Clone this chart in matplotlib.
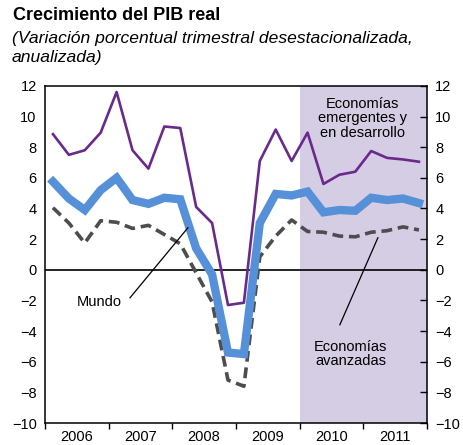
import numpy as np
import matplotlib
matplotlib.use('Agg')
import matplotlib.pyplot as plt

# =============================================================================
# DATA (quarterly, 2006Q1 .. 2011Q4, annualized % change)
# =============================================================================
YEARS = ['2006', '2007', '2008', '2009', '2010', '2011']

EMERGENTES = [8.85, 7.5, 7.8, 8.95, 11.6, 7.8, 6.6, 9.35, 9.25, 4.1, 3.05, -2.3,
              -2.15, 7.1, 9.15, 7.1, 8.95, 5.6, 6.2, 6.4, 7.75, 7.3, 7.2, 7.05]
MUNDO      = [5.75, 4.65, 3.9, 5.2, 6.0, 4.55, 4.3, 4.7, 4.6, 1.4, -0.3, -5.4,
              -5.5, 3.05, 4.95, 4.85, 5.1, 3.75, 3.9, 3.85, 4.7, 4.55, 4.65, 4.35]
AVANZADAS  = [4.05, 3.05, 1.75, 3.2, 3.1, 2.7, 2.9, 2.3, 1.7, -0.2, -2.1, -7.2,
              -7.6, 0.85, 2.2, 3.25, 2.5, 2.45, 2.2, 2.15, 2.45, 2.55, 2.8, 2.6]

SHADE_FROM = 16          # start of 2010 (quarter index)

FONT = 'Liberation Sans'
plt.rcParams['font.family'] = [FONT, 'DejaVu Sans']

# =============================================================================
# FIGURE
# =============================================================================
fig = plt.figure(figsize=(4.64, 4.45), dpi=100)
ax = fig.add_axes([0.097, 0.0494, 0.823, 0.7576])

n = len(MUNDO)
x = np.arange(n) + 0.5

# shaded projection area
ax.axvspan(SHADE_FROM, n, color='#d5cde3', lw=0, zorder=0)
ax.axhline(0, color='black', lw=1.2, zorder=1)

ax.plot(x, AVANZADAS, color='#4d4d4d', lw=2.6, dashes=(3.0, 1.6), zorder=3)
ax.plot(x, MUNDO, color='#5590d8', lw=6, solid_joinstyle='miter', zorder=4)
ax.plot(x, EMERGENTES, color='#6a2a8c', lw=1.9, zorder=5)

ax.set_xlim(0, n)
ax.set_ylim(-10, 12)
ax.set_yticks(np.arange(-10, 13, 2))

# year boundaries as major ticks, year labels centered as minor ticks
ax.set_xticks(np.arange(0, n + 1, 4))
ax.set_xticklabels([])
ax.set_xticks(np.arange(2, n, 4), minor=True)
ax.set_xticklabels(YEARS, minor=True)
ax.tick_params(axis='x', which='major', direction='out', length=4, width=1)
ax.tick_params(axis='x', which='minor', length=0, pad=5, labelsize=10.5)

ax.tick_params(axis='y', left=False, right=True, labelleft=True, labelright=True,
               direction='in', length=5, width=1, labelsize=10.5, pad=6)

for s in ax.spines.values():
    s.set_linewidth(1.1)

# annotations
ax.text(19.97, 9.9, 'Economías\nemergentes y\nen desarrollo', ha='center',
        va='center', fontsize=10.5, linespacing=1.05, zorder=6)
ax.text(3.39, -2.09, 'Mundo', ha='center', va='center', fontsize=10.5)
ax.plot([5.34, 8.98], [-1.83, 2.74], color='black', lw=0.9, zorder=6)
ax.text(19.22, -5.5, 'Economías\navanzadas', ha='center', va='center',
        fontsize=10.5, linespacing=1.0)
ax.plot([18.53, 20.92], [-3.59, 2.09], color='black', lw=0.9, zorder=6)

# titles
fig.text(13 / 464, 1 - 16 / 445, 'Crecimiento del PIB real', fontsize=13,
         fontweight='bold', ha='left', va='center')
fig.text(12 / 464, 1 - 48 / 445,
         '(Variación porcentual trimestral desestacionalizada,\nanualizada)',
         fontsize=12.6, style='italic', ha='left', va='center', linespacing=1.28)

fig.savefig('out.png', dpi=100)
